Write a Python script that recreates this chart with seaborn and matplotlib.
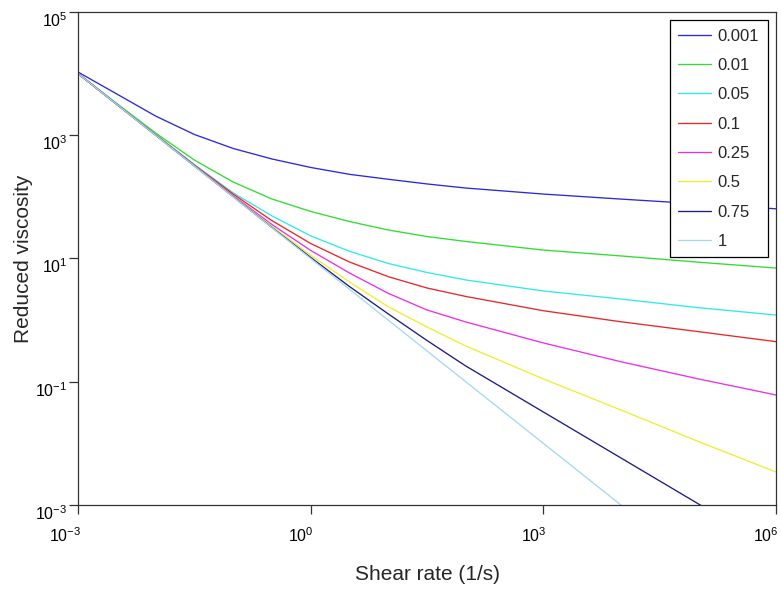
import pandas as pd
import matplotlib
matplotlib.use("Agg")
import matplotlib.pyplot as plt
import matplotlib.transforms as mtrans
import seaborn as sns
from matplotlib.ticker import NullLocator

sns.set_theme(style="white")
plt.rcParams['font.family'] = ['Liberation Sans', 'DejaVu Sans']

# shear rate grid (1/s)
shear_rate = [1e-3, 3.16e-3, 1e-2, 3.16e-2, 1e-1, 3.16e-1, 1, 3.16, 10, 31.6,
              100, 1e3, 1e4, 1e5, 1e6]

labels = ["0.001", "0.01", "0.05", "0.1", "0.25", "0.5", "0.75", "1"]
colors = ["#2a2adc", "#30dd30", "#30eaea", "#e82828", "#e830e8", "#eeee30",
          "#1c1c85", "#a6d8ee"]

visc_0001 = [10600, 4670, 2050, 1029, 610, 412, 300, 232, 193, 162, 139, 111, 92, 77, 64]
visc_001 = [10100, 3275, 1087, 396, 174, 92.4, 58, 39.8, 29, 22.7, 18.9, 13.7, 11.0, 8.7, 7.0]
visc_005 = [10000, 3180, 1030, 334, 116, 49.1, 23.3, 13.1, 8.3, 5.93, 4.48, 2.97, 2.20, 1.59, 1.21]
visc_01 = [10000, 3170, 1020, 328, 111, 41.2, 17.5, 8.77, 5.07, 3.32, 2.42, 1.42, 0.94, 0.65, 0.447]
visc_025 = [10000, 3165, 1010, 322, 104.5, 35.6, 13.5, 5.82, 2.72, 1.46, 0.933, 0.426, 0.211, 0.111, 0.061]
visc_05 = [10000, 3163, 1005, 318, 101.8, 33.2, 11.3, 4.16, 1.65, 0.773, 0.380, 0.111, 0.0348, 0.0107, 0.00343]
visc_075 = [10000, 3162, 1002, 317, 100.7, 31.9, 10.4, 3.51, 1.26, 0.467, 0.180, 0.0323, 0.0058, 0.00104, 1.86e-4]
visc_1 = [10000, 3162, 1000, 316, 100, 31.6, 10, 3.16, 1.0, 0.316, 0.1, 0.01, 0.001, 1e-4, 1e-5]

series = [visc_0001, visc_001, visc_005, visc_01, visc_025, visc_05, visc_075, visc_1]

fig = plt.figure(figsize=(7.81, 5.90), dpi=100)
ax = fig.add_axes([0.0999, 0.1441, 0.8937, 0.8356])

for vals, lbl, col in zip(series, labels, colors):
    df = pd.DataFrame({"rate": shear_rate, "visc": vals})
    sns.lineplot(data=df, x="rate", y="visc", color=col, label=lbl, lw=0.95, ax=ax)

ax.set_xscale("log")
ax.set_yscale("log")
ax.set_xlim(1e-3, 1e6)
ax.set_ylim(1e-3, 1e5)
ax.set_xticks([1e-3, 1e0, 1e3, 1e6])
ax.set_yticks([1e-3, 1e-1, 1e1, 1e3, 1e5])
ax.xaxis.set_minor_locator(NullLocator())
ax.yaxis.set_minor_locator(NullLocator())
ax.tick_params(direction="out", length=6.5, width=0.9, colors="#333333",
               labelsize=11.5, labelcolor="black", bottom=True, left=True)
ax.tick_params(axis="y", pad=1)
ax.tick_params(axis="x", pad=9)
for sp in ax.spines.values():
    sp.set_color("#333333")
    sp.set_linewidth(0.9)

# octave-like placement of the tick labels
shift_x = mtrans.ScaledTranslation(3 / 100, 0, fig.dpi_scale_trans)
shift_y = mtrans.ScaledTranslation(0, -7 / 100, fig.dpi_scale_trans)
for t in ax.xaxis.get_major_ticks():
    t.label1.set_horizontalalignment("right")
    t.label1.set_transform(t.label1.get_transform() + shift_x)
for t in ax.yaxis.get_major_ticks():
    t.label1.set_transform(t.label1.get_transform() + shift_y)

ax.set_xlabel("Shear rate (1/s)", fontsize=15, labelpad=14)
ax.set_ylabel("Reduced viscosity", fontsize=15, labelpad=2)

leg = ax.legend(loc="upper right", fontsize=12, frameon=True, fancybox=False,
                framealpha=1, edgecolor="black", handlelength=2.0,
                handletextpad=0.4, labelspacing=0.86, borderpad=0.5,
                borderaxespad=0.5)
leg.get_frame().set_linewidth(0.9)

fig.savefig("out.png", dpi=100)
plt.close(fig)
